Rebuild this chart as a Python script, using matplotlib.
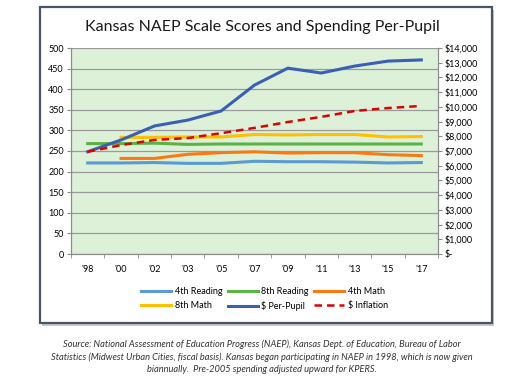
import numpy as np
import matplotlib.pyplot as plt
from matplotlib.patches import Rectangle
from matplotlib.ticker import FuncFormatter

plt.rcParams['font.family'] = ['Lato', 'DejaVu Sans']

# Data
years = ["'98", "'00", "'02", "'03", "'05", "'07", "'09", "'11", "'13", "'15", "'17"]
reading_4th = [221, 221, 222, 220, 220, 225, 224, 224, 223, 221, 222]
reading_8th = [268, 268, 269, 266, 267, 267, 267, 267, 267, 267, 267]
math_4th = [np.nan, 232, 232, 242, 246, 248, 245, 246, 246, 241, 239]
math_8th = [np.nan, 283, 283, 284, 284, 290, 289, 290, 290, 284, 285]
per_pupil = [6950, 7750, 8700, 9100, 9720, 11480, 12630, 12300, 12770, 13110, 13190]
inflation = [6950, 7400, 7750, 7880, 8210, 8570, 8970, 9320, 9720, 9920, 10060]

fig = plt.figure(figsize=(5.24, 3.83), dpi=100)

# chart frame with a soft shadow
fig.patches.append(Rectangle((42 / 524, 1 - 326 / 383), 452 / 524, 316 / 383,
                             transform=fig.transFigure, facecolor='#c8c8c8',
                             edgecolor='none', zorder=0))
fig.patches.append(Rectangle((40 / 524, 1 - 323 / 383), 452 / 524, 316 / 383,
                             transform=fig.transFigure, facecolor='white',
                             edgecolor='#46556b', linewidth=1.6, zorder=1))

ax = fig.add_axes([71 / 524, 1 - 254 / 383, 367 / 524, 206 / 383])
ax.set_zorder(2)
ax.set_facecolor('#ddf0d8')
x = np.arange(len(years))

ax.plot(x, reading_4th, color='#5b9bd5', lw=2.2, label='4th Reading')
ax.plot(x, reading_8th, color='#5bb346', lw=2.2, label='8th Reading')
ax.plot(x, math_4th, color='#f97a12', lw=2.2, label='4th Math')
ax.plot(x, math_8th, color='#ffc000', lw=2.2, label='8th Math')

ax2 = ax.twinx()
ax2.plot(x, per_pupil, color='#3a5fb5', lw=2.2, label='$ Per-Pupil')
ax2.plot(x, inflation, color='#e00000', lw=1.8, ls=(0, (3, 2)), label='$ Inflation')

ax.set_xlim(-0.5, len(years) - 0.5)
ax.set_ylim(0, 500)
ax.set_yticks(np.arange(0, 501, 50))
ax2.set_ylim(0, 14000)
ax2.set_yticks(np.arange(0, 14001, 1000))
ax2.yaxis.set_major_formatter(FuncFormatter(lambda v, p: '$-' if v == 0 else f'${v:,.0f}'))

ax.set_xticks(x)
ax.set_xticklabels(years)
ax.set_xticks(np.arange(-0.5, len(years), 1), minor=True)
ax.tick_params(axis='x', which='major', length=0, labelsize=6.5, pad=8)
ax.tick_params(axis='x', which='minor', length=3, color='#8c8c8c')
ax.tick_params(axis='y', labelsize=6.5, length=3, color='#8c8c8c', pad=2)
ax2.tick_params(axis='y', labelsize=6.5, length=3, color='#8c8c8c', pad=2)

ax.grid(axis='y', color='#9a9a9a', lw=0.9)
ax.set_axisbelow(True)
for a in (ax, ax2):
    a.spines['top'].set_visible(False)
    for s in ('left', 'right', 'bottom'):
        a.spines[s].set_color('#8c8c8c')

fig.text(0.5, 1 - 27 / 383, 'Kansas NAEP Scale Scores and Spending Per-Pupil',
         ha='center', va='center', fontsize=11.5, color='#1a1a1a', zorder=3)

h1, l1 = ax.get_legend_handles_labels()
h2, l2 = ax2.get_legend_handles_labels()
hs = h1 + h2
ls = l1 + l2
order = [0, 3, 1, 4, 2, 5]
fig.legend([hs[i] for i in order], [ls[i] for i in order], ncol=3,
           loc='center', bbox_to_anchor=(0.505, 1 - 299 / 383), frameon=False,
           fontsize=6.5, handlelength=3.3, handletextpad=0.4, columnspacing=0.6,
           labelspacing=0.5)

note = ('Source: National Assessment of Education Progress (NAEP), Kansas Dept. of Education, Bureau of Labor\n'
        'Statistics (Midwest Urban Cities, fiscal basis). Kansas began participating in NAEP in 1998, which is now given\n'
        'biannually.  Pre-2005 spending adjusted upward for KPERS.')
fig.text(0.5, 1 - 357 / 383, note, ha='center', va='center', fontsize=6.7,
         style='italic', color='#333333', linespacing=1.45)

fig.savefig('out.png', dpi=100)
